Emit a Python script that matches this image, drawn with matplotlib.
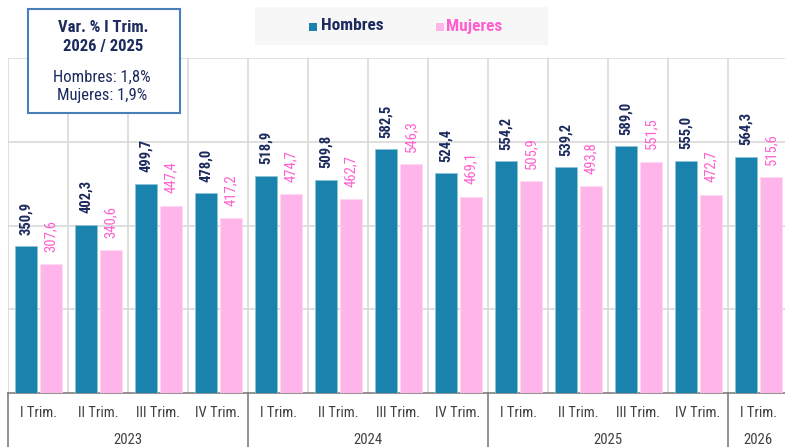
import numpy as np
import matplotlib.pyplot as plt
from matplotlib.patches import Rectangle
from matplotlib.transforms import blended_transform_factory

plt.rcParams['font.family'] = ['Roboto Condensed', 'Archivo Narrow', 'Liberation Sans', 'DejaVu Sans']

trimestres = ['I Trim.', 'II Trim.', 'III Trim.', 'IV Trim.'] * 3 + ['I Trim.']
years = ['2023', '2024', '2025', '2026']
year_span = [4, 4, 4, 1]
hombres = [350.9, 402.3, 499.7, 478.0, 518.9, 509.8, 582.5, 524.4,
           554.2, 539.2, 589.0, 555.0, 564.3]
mujeres = [307.6, 340.6, 447.4, 417.2, 474.7, 462.7, 546.3, 469.1,
           505.9, 493.8, 551.5, 472.7, 515.6]

c_h = '#1a83ad'
c_m = '#ffb5ea'
t_h = '#1c2a5e'
t_m = '#ff5fce'

W, H = 785, 447
fig = plt.figure(figsize=(W / 100, H / 100), dpi=100)
ax = fig.add_axes([8 / W, (H - 393) / H, 780 / W, (393 - 58) / H])

n = len(hombres)
x = np.arange(n) + 0.5
bw = 0.37
ax.bar(x - 0.2, hombres, bw, color=c_h, edgecolor='#8fc3da', linewidth=0.6, zorder=3)
ax.bar(x + 0.215, mujeres, bw, color=c_m, edgecolor='#ffd9f4', linewidth=0.6, zorder=3)

for i in range(n):
    ax.text(x[i] - 0.2, hombres[i] + 27, f'{hombres[i]:.1f}'.replace('.', ','),
            rotation=90, ha='center', va='bottom', fontsize=10.5,
            fontweight='bold', color=t_h)
    ax.text(x[i] + 0.215, mujeres[i] + 30, f'{mujeres[i]:.1f}'.replace('.', ','),
            rotation=90, ha='center', va='bottom', fontsize=10.5, color=t_m)

ax.set_xlim(0, n)
ax.set_ylim(0, 800)
ax.set_yticks([200, 400, 600, 800])
ax.set_xticks(np.arange(n + 1))
ax.grid(True, color='#d9d9d9', linewidth=1.2, zorder=0)
ax.tick_params(left=False, bottom=False, labelleft=False, labelbottom=False)
for s in ['top', 'right', 'left']:
    ax.spines[s].set_visible(False)
ax.spines['bottom'].set_color('#7f7f7f')
ax.spines['bottom'].set_linewidth(1.2)

# category axis labels
tr = blended_transform_factory(ax.transData, fig.transFigure)
for i, lab in enumerate(trimestres):
    ax.text(x[i], (H - 413) / H, lab, transform=tr, ha='center', va='center',
            fontsize=10.5, color='#404040', clip_on=False)
pos = 0
for yr, sp in zip(years, year_span):
    ax.text(pos + sp / 2, (H - 440) / H, yr, transform=tr, ha='center',
            va='center', fontsize=10.5, color='#404040', clip_on=False)
    ax.plot([pos, pos], [(H - 393) / H, 0], transform=tr, color='#7f7f7f',
            linewidth=1.2, clip_on=False)
    pos += sp
ax.plot([pos, pos], [(H - 393) / H, 0], transform=tr, color='#7f7f7f',
        linewidth=1.2, clip_on=False)

# legend box
fig.patches.append(Rectangle((255 / W, (H - 45) / H), 293 / W, 38 / H,
                             transform=fig.transFigure, facecolor='#f7f7f7',
                             edgecolor='none', zorder=5))
fig.patches.append(Rectangle((309 / W, (H - 31) / H), 8 / W, 8 / H,
                             transform=fig.transFigure, facecolor=c_h, zorder=6))
fig.text(321 / W, (H - 26) / H, 'Hombres', fontsize=12.5, fontweight='bold',
         color=t_h, va='center', zorder=6)
fig.patches.append(Rectangle((436 / W, (H - 31) / H), 8 / W, 8 / H,
                             transform=fig.transFigure, facecolor=c_m, zorder=6))
fig.text(446 / W, (H - 26) / H, 'Mujeres', fontsize=12.5, fontweight='bold',
         color=t_m, va='center', zorder=6)

# variation box
fig.patches.append(Rectangle((28 / W, (H - 113) / H), 152 / W, 104 / H,
                             transform=fig.transFigure, facecolor='white',
                             edgecolor='#4a7ebb', linewidth=1.5, zorder=5))
fig.text(103 / W, (H - 37) / H, 'Var. % I Trim.\n2026 / 2025', fontsize=12,
         fontweight='bold', color=t_h, ha='center', va='center',
         linespacing=1.35, zorder=6)
fig.text(102 / W, (H - 86.5) / H, 'Hombres: 1,8%\nMujeres: 1,9%', fontsize=12,
         color=t_h, ha='center', va='center', linespacing=1.2, zorder=6)

fig.savefig('out.png', dpi=100)
